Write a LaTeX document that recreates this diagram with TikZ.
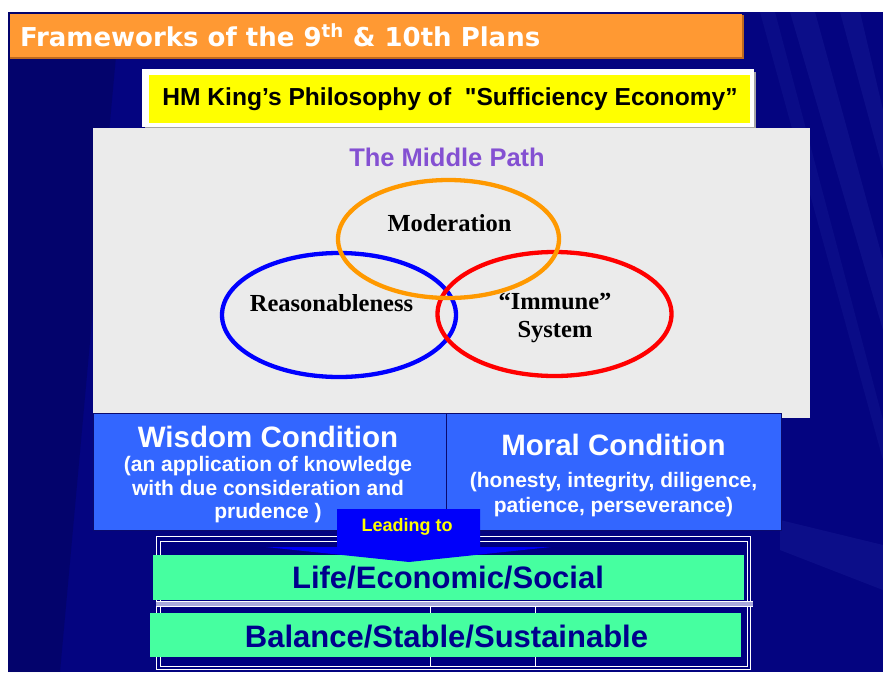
\documentclass[tikz,border=0pt]{standalone}
\usepackage{fontspec}
\setmainfont{Liberation Sans}
\newfontfamily\titlefont{DejaVu Sans}
\newfontfamily\seriffont{Liberation Serif}
\usetikzlibrary{shapes.geometric}
\definecolor{bgblue}{RGB}{4,4,128}
\definecolor{streakC}{RGB}{90,110,220}
\definecolor{orangeC}{RGB}{255,153,51}
\definecolor{orshadow}{RGB}{190,105,30}
\definecolor{yellowC}{RGB}{255,255,0}
\definecolor{panelC}{RGB}{235,235,235}
\definecolor{purpleC}{RGB}{132,80,210}
\definecolor{ringO}{RGB}{255,153,0}
\definecolor{ringB}{RGB}{0,0,255}
\definecolor{ringR}{RGB}{255,0,0}
\definecolor{condC}{RGB}{51,102,255}
\definecolor{condEdge}{RGB}{10,10,110}
\definecolor{arrowC}{RGB}{0,0,250}
\definecolor{greenC}{RGB}{70,255,160}
\definecolor{navyT}{RGB}{0,0,140}
\definecolor{frameC}{RGB}{0,0,128}
\definecolor{divC}{RGB}{170,170,220}
\tikzset{
  txt/.style={inner sep=0pt, outer sep=0pt},
  ring/.style={draw, ellipse, line width=4.3pt, inner sep=0pt},
  condbox/.style={fill=condC, draw=condEdge, line width=1pt, anchor=north west, inner sep=0pt},
  greenbox/.style={fill=greenC, anchor=north west, inner sep=0pt},
  fsize/.style={font=\fontsize{#1}{#1}\selectfont\bfseries},
  serifsize/.style={font=\seriffont\bfseries\fontsize{#1}{#1}\selectfont},
}
\newcommand\straightquote{{\addfontfeature{Ligatures=TeXOff}"}}
\begin{document}
\begin{tikzpicture}[x=1pt,y=-1pt]
\useasboundingbox (0,0) rectangle (883,672);
\fill[white] (0,0) rectangle (883,672);
\fill[bgblue] (8,12) rectangle (883,672);
% background streaks
\fill[streakC, opacity=0.10] (790,12) -- (815,12) -- (883,260) -- (883,330) -- cycle;
\fill[streakC, opacity=0.10] (840,12) -- (860,12) -- (883,110) -- (883,170) -- cycle;
\fill[streakC, opacity=0.08] (760,12) -- (775,12) -- (883,420) -- (883,460) -- cycle;
\fill[streakC, opacity=0.10] (780,520) -- (883,545) -- (883,590) -- (780,550) -- cycle;
\fill[black, opacity=0.15] (8,12) -- (120,12) -- (60,672) -- (8,672) -- cycle;

% title bar
\fill[orshadow] (10,15) rectangle (744,59);
\node[fill=orangeC, anchor=north west, minimum width=732pt, minimum height=43.5pt, inner sep=0pt] (bar) at (10,13.3) {};
\node[txt, anchor=west, text=white] (title) at (20,35)
  {\titlefont\bfseries\fontsize{26}{30}\selectfont Frameworks of the 9\textsuperscript{th} \& 10th Plans};

% philosophy box
\fill[gray!70] (145,72) rectangle (756,130);
\node[fill=white, anchor=north west, minimum width=612pt, minimum height=58pt, inner sep=0pt] (hmframe) at (142,69) {};
\node[fill=yellowC, anchor=north west, minimum width=601pt, minimum height=48pt, inner sep=0pt] (hmbox) at (149,75) {};
\node[txt, fsize=24.6] (hm) at (450,99) {HM King’s Philosophy of\ \ \straightquote Sufficiency Economy”};

% middle path panel
\node[fill=panelC, anchor=north west, minimum width=717pt, minimum height=290pt, inner sep=0pt] (panel) at (93,128) {};
\node[txt, fsize=25.5, text=purpleC] (mid) at (447,157) {The Middle Path};

\node[ring, draw=ringB, minimum width=234pt, minimum height=124pt] (reasonR) at (339,315) {};
\node[ring, draw=ringR, minimum width=234pt, minimum height=124pt] (immuneR) at (554.5,314) {};
\node[ring, draw=ringO, minimum width=221pt, minimum height=118pt] (modR) at (448.5,239) {};

\node[txt, serifsize=24.5] (mod) at (449.5,223) {Moderation};
\node[txt, serifsize=24.5] (reas) at (331.5,303) {Reasonableness};
\node[txt, serifsize=24.5] (imm) at (555,301) {“Immune”};
\node[txt, serifsize=24.5] (sys) at (555,332) {System};

% conditions
\node[condbox, minimum width=353pt, minimum height=117pt] (wisbox) at (93,413) {};
\node[condbox, minimum width=335pt, minimum height=117pt] (morbox) at (446,413) {};
\node[txt, fsize=29.5, text=white] (wis) at (268,437) {Wisdom Condition};
\node[txt, text=white, align=center, font=\fontsize{21}{23.5}\selectfont\bfseries] (wissub) at (268,490)
  {(an application of knowledge\\with due consideration and\\prudence )};
\node[txt, fsize=29.5, text=white] (mor) at (613.5,445) {Moral Condition};
\node[txt, text=white, align=center, font=\fontsize{21}{25}\selectfont\bfseries] (morsub) at (613.5,494.5)
  {(honesty, integrity, diligence,\\patience, perseverance)};

% bottom frame
\fill[frameC] (156,536) rectangle (751,670);
\draw[white, line width=1.2pt] (156.5,536.5) rectangle (750.5,669.5);
\draw[white, line width=1pt] (160,541.5) rectangle (747,666);
\fill[divC] (156,601) rectangle (753,606);
\draw[white, line width=1pt] (156,601) -- (753,601);
\draw[white, line width=1pt] (156,606) -- (753,606);
\draw[white, line width=1pt] (430,606) -- (430,666);
\draw[white, line width=1pt] (535,606) -- (535,666);

\node[greenbox, minimum width=591pt, minimum height=45pt] (lifebox) at (153,555) {};
\node[greenbox, minimum width=591pt, minimum height=44pt] (balbox) at (150,613) {};
\node[txt, fsize=31, text=navyT] (life) at (448,578) {Life/Economic/Social};
\node[txt, fsize=31, text=navyT] (bal) at (446.5,637) {Balance/Stable/Sustainable};

% leading-to arrow
\fill[arrowC] (337,509) -- (480,509) -- (480,547) -- (551,547) -- (409,562) -- (266,547) -- (337,547) -- cycle;
\node[txt, fsize=18, text=yellowC] (lead) at (407,527) {Leading to};
\end{tikzpicture}
\end{document}
